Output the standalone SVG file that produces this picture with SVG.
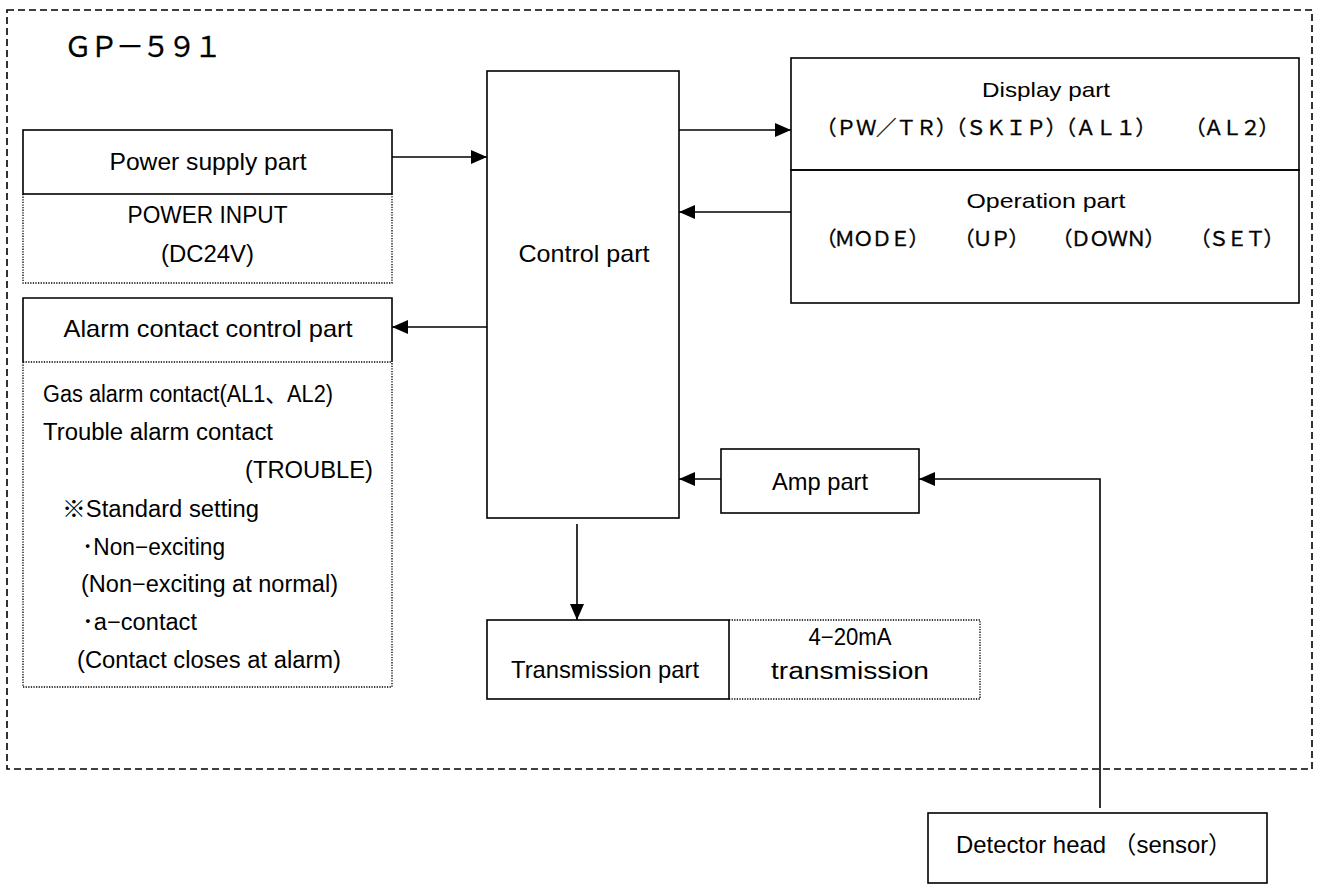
<svg xmlns="http://www.w3.org/2000/svg" width="1317" height="884" viewBox="0 0 1317 884">
<style>
.box{fill:none;stroke:#000;stroke-width:1.6}
.dot{fill:none;stroke:#000;stroke-width:1.3;stroke-dasharray:1.3 1.3}
.dash{fill:none;stroke:#000;stroke-width:1.6;stroke-dasharray:7 4}
.ln{fill:none;stroke:#000;stroke-width:1.6;marker-end:url(#ah)}
text{font-family:"Liberation Sans","Noto Sans CJK JP",sans-serif;fill:#000}
.t{font-size:24px}
.s{font-size:21px}
.c{font-size:23px}
.fw{font-family:"Noto Sans CJK JP",sans-serif;font-size:20.5px;stroke:#000;stroke-width:0.35}
.m{text-anchor:middle}
</style>
<defs>
<marker id="ah" markerUnits="userSpaceOnUse" markerWidth="16" markerHeight="14" viewBox="0 0 16 14" refX="16" refY="7" orient="auto">
<path d="M0,0 L16,7 L0,14 z" fill="#000"/>
</marker>
</defs>
<rect fill="#fff" width="1317" height="884"/>

<g id="gp591">
<rect class="dash" x="7" y="10" width="1305" height="759"/>
<text x="64" y="57" style="font-family:'Noto Sans CJK JP',sans-serif;font-size:28px;stroke:#000;stroke-width:0.3" textLength="158" lengthAdjust="spacing">ＧＰ－５９１</text>
</g>

<g id="power">
<rect class="box" x="23" y="130" width="369" height="64"/>
<text class="t m" x="208" y="170" textLength="197" lengthAdjust="spacingAndGlyphs">Power supply part</text>
<path class="dot" d="M23,194 V283 H392 V194"/>
<text class="c m" x="207.5" y="223" textLength="160" lengthAdjust="spacingAndGlyphs">POWER INPUT</text>
<text class="c m" x="207.5" y="262" textLength="93" lengthAdjust="spacingAndGlyphs">(DC24V)</text>
</g>

<g id="control">
<rect class="box" x="487" y="71" width="192" height="447"/>
<text class="t m" x="584" y="262" textLength="131" lengthAdjust="spacingAndGlyphs">Control part</text>
</g>

<g id="display">
<rect class="box" x="791" y="58" width="508" height="112"/>
<text class="s m" x="1046" y="97" textLength="128" lengthAdjust="spacingAndGlyphs">Display part</text>
<text class="fw" x="816" y="135" textLength="340" lengthAdjust="spacing">（ＰＷ／ＴＲ）（ＳＫＩＰ）（ＡＬ１）</text>
<text class="fw" x="1185" y="135" textLength="94" lengthAdjust="spacing">（ＡＬ２）</text>
</g>

<g id="operation">
<rect class="box" x="791" y="170" width="508" height="133"/>
<text class="s m" x="1046" y="208" textLength="159" lengthAdjust="spacingAndGlyphs">Operation part</text>
<text class="fw" x="816" y="246" textLength="113" lengthAdjust="spacing">（ＭＯＤＥ）</text>
<text class="fw" x="954" y="246" textLength="75" lengthAdjust="spacing">（ＵＰ）</text>
<text class="fw" x="1052" y="246" textLength="113" lengthAdjust="spacing">（ＤＯＷＮ）</text>
<text class="fw" x="1190" y="246" textLength="94" lengthAdjust="spacing">（ＳＥＴ）</text>
</g>

<g id="alarm">
<path class="box" d="M23,362 V298 H392 V362"/>
<path class="dot" d="M23,362 H392 M23,362 V687 H392 V362"/>
<text class="t m" x="208" y="337" textLength="289" lengthAdjust="spacingAndGlyphs">Alarm contact control part</text>
<text class="c" x="43" y="402" textLength="290" lengthAdjust="spacingAndGlyphs">Gas alarm contact(AL1、AL2)</text>
<text class="c" x="43" y="440" textLength="230" lengthAdjust="spacingAndGlyphs">Trouble alarm contact</text>
<text class="c" x="245" y="478" textLength="128" lengthAdjust="spacingAndGlyphs">(TROUBLE)</text>
<text class="c" x="62" y="517" textLength="197" lengthAdjust="spacingAndGlyphs">※Standard setting</text>
<text class="c" x="82" y="555" textLength="143" lengthAdjust="spacingAndGlyphs">･Non−exciting</text>
<text class="c" x="81" y="592" textLength="257" lengthAdjust="spacingAndGlyphs">(Non−exciting at normal)</text>
<text class="c" x="82" y="630" textLength="115" lengthAdjust="spacingAndGlyphs">･a−contact</text>
<text class="c" x="77" y="668" textLength="264" lengthAdjust="spacingAndGlyphs">(Contact closes at alarm)</text>
</g>

<g id="amp">
<rect class="box" x="721" y="449" width="198" height="64"/>
<text class="t m" x="820" y="490" textLength="96" lengthAdjust="spacingAndGlyphs">Amp part</text>
</g>

<g id="transmission">
<rect class="box" x="487" y="620" width="242" height="79"/>
<text class="t m" x="605" y="678" textLength="188" lengthAdjust="spacingAndGlyphs">Transmission part</text>
<path class="dot" d="M729,620 H980 V699 H729"/>
<text class="c m" x="850" y="645" textLength="83" lengthAdjust="spacingAndGlyphs">4−20mA</text>
<text class="c m" x="850" y="679" textLength="158" lengthAdjust="spacingAndGlyphs">transmission</text>
</g>

<g id="detector">
<rect class="box" x="928" y="813" width="339" height="70"/>
<text class="t" x="956" y="853" textLength="276" lengthAdjust="spacingAndGlyphs">Detector head （sensor）</text>
</g>

<g id="connectors">
<line class="ln" x1="392" y1="157" x2="487" y2="157"/>
<line class="ln" x1="679" y1="130" x2="791" y2="130"/>
<line class="ln" x1="791" y1="212" x2="679" y2="212"/>
<line class="ln" x1="487" y1="327" x2="392" y2="327"/>
<line class="ln" x1="721" y1="479" x2="679" y2="479"/>
<polyline class="ln" points="1100,808 1100,479 919,479"/>
<line class="ln" x1="577" y1="524" x2="577" y2="620"/>
</g>
</svg>
